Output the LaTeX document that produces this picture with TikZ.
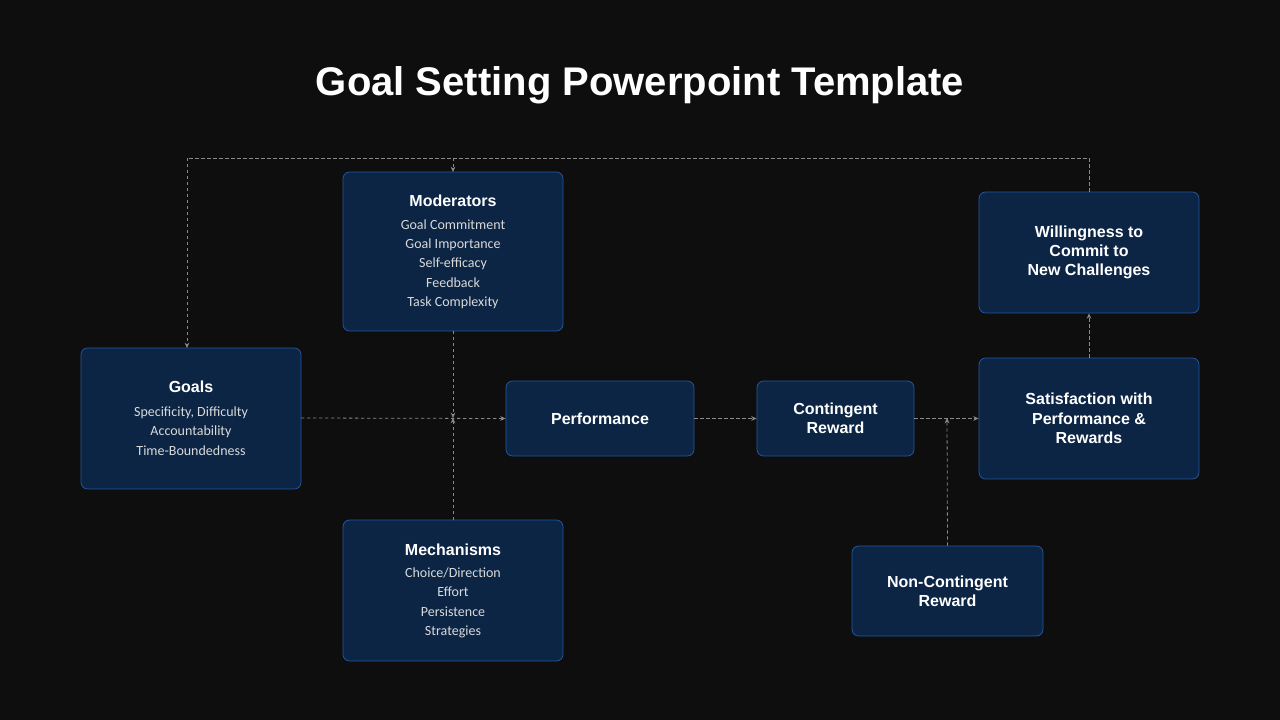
\documentclass[tikz,border=0pt]{standalone}
\usepackage{fontspec}
\setmainfont{Liberation Sans}
\newfontfamily\bodyf{Carlito}
\usetikzlibrary{arrows.meta}
\definecolor{bg}{HTML}{0E0E0E}
\definecolor{boxf}{HTML}{0C2545}
\definecolor{boxd}{HTML}{2356A0}
\definecolor{lnc}{HTML}{8A8A8A}
\begin{document}
\begin{tikzpicture}[x=0.75pt,y=-0.75pt,
  bx/.style={draw=boxd,fill=boxf,rounded corners=5pt,line width=0.6pt},
  hd/.style={text=white,font=\bfseries\fontsize{12}{14.5}\selectfont,align=center},
  bd/.style={text=white!85!black,font=\bodyf\fontsize{10.5}{14.5}\selectfont,align=center},
  cn/.style={draw=lnc,dashed,dash pattern=on 2.5pt off 2pt,line width=0.6pt},
  ar/.style={cn,-{Stealth[length=4pt,width=3.5pt]}}]
\fill[bg] (0,0) rectangle (1280,720);
\node[text=white,font=\bfseries\fontsize{30}{34}\selectfont] (title) at (640,85) {Goal Setting Powerpoint Template};
% boxes
\draw[bx] (343,172) rectangle (563,331); \coordinate (modT) at (453,172); \coordinate (modB) at (453,331);
\node[hd] (modh) at (453,201) {Moderators};
\node[bd] (modb) at (453,264) {Goal Commitment\\Goal Importance\\Self-efficacy\\Feedback\\Task Complexity};
\draw[bx] (81,348) rectangle (301,489); \coordinate (goT) at (187,348); \coordinate (goR) at (301,418);
\node[hd] (goh) at (191,387) {Goals};
\node[bd] (gob) at (191,431) {Specificity, Difficulty\\Accountability\\Time-Boundedness};
\node[bx,minimum width=188*0.75pt,minimum height=75*0.75pt,hd] (perf) at (600,418.5) {Performance};
\node[bx,minimum width=157*0.75pt,minimum height=75*0.75pt,hd] (cont) at (835.5,418.5) {Contingent\\Reward};
\node[bx,minimum width=220*0.75pt,minimum height=121*0.75pt,hd] (sat) at (1089,418.5) {Satisfaction with\\Performance \&\\Rewards};
\node[bx,minimum width=220*0.75pt,minimum height=121*0.75pt,hd] (wil) at (1089,252.5) {Willingness to\\Commit to\\New Challenges};
\draw[bx] (343,520) rectangle (563,661); \coordinate (mecT) at (453,520);
\node[hd] (mech) at (453,550) {Mechanisms};
\node[bd] (mecb) at (453,603) {Choice/Direction\\Effort\\Persistence\\Strategies};
\node[bx,minimum width=191*0.75pt,minimum height=90*0.75pt,hd] (nc) at (947.5,591) {Non-Contingent\\Reward};
% connectors
\coordinate (j1) at (453,418);
\coordinate (j2) at (947,418);
\coordinate (c1) at (1089,158);
\coordinate (c2) at (187,158);
\coordinate (c3) at (453,158);
\draw[cn] (wil.north) -- (c1) -- (c2);
\draw[ar] (c2) -- (goT);
\draw[ar] (c3) -- (modT);
\draw[ar] (goR) -- (perf.west);
\draw[ar] (modB) -- (j1);
\draw[ar] (mecT) -- (j1);
\draw[ar] (perf.east) -- (cont.west);
\draw[ar] (cont.east) -- (sat.west);
\draw[ar] (nc.north) -- (j2);
\draw[ar] (sat.north) -- (wil.south);
\end{tikzpicture}
\end{document}
